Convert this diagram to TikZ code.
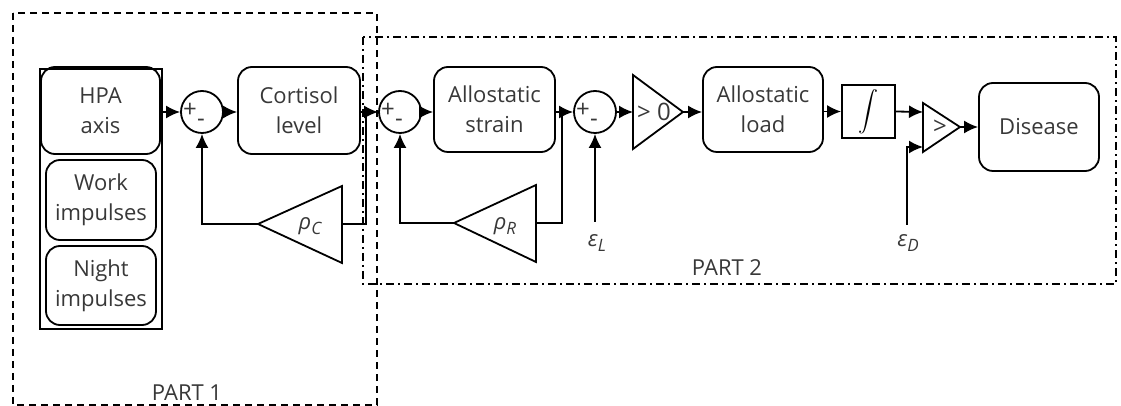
\documentclass[tikz,border=0pt]{standalone}
\usepackage{fontspec}
\setmainfont{Open Sans}
\usetikzlibrary{arrows.meta,calc}
\newcommand\gsub[2]{{\itshape #1\raisebox{-0.4ex}{\fontsize{8.5}{8.5}\selectfont #2}}}
\begin{document}
\begin{tikzpicture}[x=0.5pt,y=-0.5pt,
  line width=0.9pt,
  txt/.style={font=\fontsize{11}{15}\selectfont, text=black!78},
  blk/.style={draw, rounded corners=7pt, align=center, txt, inner sep=0pt},
  sumc/.style={draw, circle, minimum size=21pt, inner sep=0pt},
  arr/.style={-{Latex[length=7pt,width=6.5pt]}},
  partone/.style={dash pattern=on 3.5pt off 2.5pt, line width=0.8pt},
  parttwo/.style={dash pattern=on 4pt off 2pt on 1pt off 2pt, line width=0.8pt},
  pm/.style={font=\fontsize{12}{12}\selectfont, inner sep=0pt, text=black!78}
]
\useasboundingbox (0,0) rectangle (1121,406);
% part frames
\draw[partone] (13,13) rectangle (377,405);
\draw[parttwo] (363,37) rectangle (1116,284);
\node[txt] (p1lbl) at (187,393) {PART 1};
\node[txt] (p2lbl) at (727,268) {PART 2};

% left column
\node[draw, minimum width=61pt, minimum height=130pt, inner sep=0pt] (cont) at (101,199) {};
\node[blk, minimum width=59.5pt, minimum height=43.5pt] (hpa) at (100.5,110.5) {HPA\\axis};
\node[blk, minimum width=55pt, minimum height=40pt] (work) at (101,200) {Work\\impulses};
\node[blk, minimum width=55pt, minimum height=39.5pt] (night) at (101,285.5) {Night\\impulses};

% sum 1
\node[sumc] (s1) at (202,112) {};
\node[pm] (s1p) at (190,110) {+};
\node[pm] (s1m) at (201,123) {-};
\node[blk, minimum width=61pt, minimum height=43.5pt] (cort) at (299,110.5) {Cortisol\\level};

% sum 2
\node[sumc] (s2) at (400,112) {};
\node[pm] (s2p) at (388,110) {+};
\node[pm] (s2m) at (399,123) {-};
\node[blk, minimum width=60.5pt, minimum height=42.5pt] (strain) at (494.5,109.5) {Allostatic\\strain};

% sum 3
\node[sumc] (s3) at (595,112) {};
\node[pm] (s3p) at (583,110) {+};
\node[pm] (s3m) at (594,123) {-};

% > 0 triangle
\coordinate (gTa) at (633,75);
\coordinate (gTb) at (633,149);
\coordinate (gTc) at (683,112);
\coordinate (gTm) at (633,112);
\draw (gTa) -- (gTb) -- (gTc) -- cycle;
\node[txt, font=\fontsize{12}{15}\selectfont] (gtxt) at (654,112) {> 0};

\node[blk, minimum width=60pt, minimum height=42.5pt] (load) at (763,109.5) {Allostatic\\load};
\node[draw, minimum size=26.5pt, inner sep=0pt] (integ) at (868.5,111.5) {\fontsize{11.5}{11.5}\selectfont$\displaystyle\int$};

% comparator
\coordinate (cTa) at (923,103);
\coordinate (cTb) at (923,152);
\coordinate (cTc) at (960,127);
\coordinate (cTi1) at (923,112);
\coordinate (cTi2) at (923,147);
\draw (cTa) -- (cTb) -- (cTc) -- cycle;
\node[txt, font=\fontsize{12}{15}\selectfont] (ctxt) at (940,127) {>};

\node[blk, minimum width=60pt, minimum height=44pt] (dis) at (1039,127) {Disease};

% rho_C triangle
\coordinate (rCa) at (258,224);
\coordinate (rCb1) at (342,186);
\coordinate (rCb2) at (342,263);
\coordinate (rCm) at (342,224);
\coordinate (jC) at (366,112);
\draw (rCa) -- (rCb1) -- (rCb2) -- cycle;
\node[txt] (rCt) at (310,226) {\gsub{ρ}{C}};

% rho_R triangle
\coordinate (rRa) at (454,223);
\coordinate (rRb1) at (536,185);
\coordinate (rRb2) at (536,262);
\coordinate (rRm) at (536,223);
\coordinate (jR) at (562,112);
\draw (rRa) -- (rRb1) -- (rRb2) -- cycle;
\node[txt] (rRt) at (505,226) {\gsub{ρ}{R}};

% epsilon inputs
\coordinate (epsL) at (595,222);
\coordinate (epsD) at (907,225);
\node[txt] (lL) at (597,243) {\gsub{ε}{L}};
\node[txt] (lD) at (908,243) {\gsub{ε}{D}};

% connectors
\draw[arr] (hpa.east |- s1.west) -- (s1.west);
\draw[arr] (s1.east) -- (cort.west |- s1.east);
\draw[arr] (cort.east |- s2.west) -- (s2.west);
\draw[arr] (s2.east) -- (strain.west |- s2.east);
\draw[arr] (strain.east |- s3.west) -- (s3.west);
\draw[arr] (s3.east) -- (gTm);
\draw[arr] (gTc) -- (load.west |- gTc);
\draw[arr] (load.east |- integ.west) -- (integ.west);
\draw[arr] (integ.east) -- (cTi1);
\draw[arr] (epsD) |- (cTi2);
\draw[arr] (cTc) -- (dis.west);
\draw (rCm) -| (jC);
\draw[arr] (rCa) -| (s1.south);
\draw (rRm) -| (jR);
\draw[arr] (rRa) -| (s2.south);
\draw[arr] (epsL) -- (s3.south);
\end{tikzpicture}
\end{document}
